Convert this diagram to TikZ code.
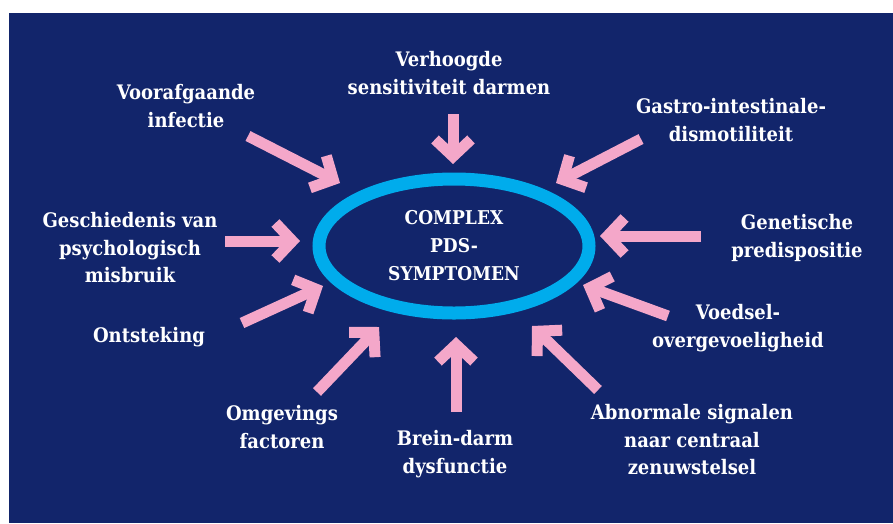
\documentclass[tikz,border=0pt]{standalone}
\usepackage{fontspec}
\setmainfont{DejaVu Serif}[FakeStretch=0.9]
\usetikzlibrary{arrows.meta, shapes.geometric}
\definecolor{navy}{RGB}{18,37,107}
\definecolor{ringblue}{RGB}{0,172,236}
\definecolor{pinkarrow}{RGB}{244,167,201}
\tikzset{arr/.style={draw=pinkarrow, line width=11pt, line join=miter,
    -{Straight Barb[length=17pt, width=36pt, line width=11pt]}}}

\begin{document}
\begin{tikzpicture}[
      x=1pt, y=-1pt,
      cause/.style={text=white, align=center, inner sep=0pt,
          font=\fontsize{20}{27.5}\selectfont\bfseries},
      core/.style={draw=ringblue, ellipse, line width=13pt, text=white, align=center,
          minimum width=270pt, minimum height=134pt, inner sep=0pt,
          font=\fontsize{19}{28}\selectfont\bfseries},
  ]
      % Background panel
      \useasboundingbox (0,0) rectangle (893,523);
      \fill[navy] (9,13) rectangle (893,523);

      % Centre: the ring
      \node[core] (sympt) at (454,246) {COMPLEX\\PDS-\\SYMPTOMEN};

      % Causes round the ring (clockwise from top)
      \node[cause] (sens) at (449,73) {Verhoogde\\sensitiviteit darmen};
      \node[cause] (gastro) at (731,120) {Gastro-intestinale-\\dismotiliteit};
      \node[cause] (genet) at (797,238) {Genetische\\predispositie};
      \node[cause] (voedsel) at (738,328) {Voedsel-\\overgevoeligheid};
      \node[cause] (cns) at (692,440) {Abnormale signalen\\naar centraal\\zenuwstelsel};
      \node[cause] (brein) at (455,454) {Brein-darm\\dysfunctie};
      \node[cause] (omgev) at (282,427) {Omgevings\\factoren};
      \node[cause] (ontst) at (149,337) {Ontsteking};
      \node[cause] (gesch) at (130,248) {Geschiedenis van\\psychologisch\\misbruik};
      \node[cause] (infect) at (186,106) {Voorafgaande\\infectie};

      % Arrow ends
      \coordinate (infect-a) at (248,136);   \coordinate (infect-b) at (340,183);
      \coordinate (sens-a) at (453,114);     \coordinate (sens-b) at (453,164);
      \coordinate (gastro-a) at (641,139);   \coordinate (gastro-b) at (556,183);
      \coordinate (gesch-a) at (225,241);    \coordinate (gesch-b) at (300,241);
      \coordinate (ontst-a) at (242,323);    \coordinate (ontst-b) at (323,286);
      \coordinate (genet-a) at (701,236);    \coordinate (genet-b) at (600,236);
      \coordinate (voedsel-a) at (668,316);  \coordinate (voedsel-b) at (583,285);
      \coordinate (omgev-a) at (317,392);    \coordinate (omgev-b) at (379,327);
      \coordinate (brein-a) at (456,412);    \coordinate (brein-b) at (456,337);
      \coordinate (cns-a) at (598,390);      \coordinate (cns-b) at (532,326);

      % Arrows into the ring
      \foreach \c in {infect, sens, gastro, gesch, ontst, genet, voedsel, omgev, brein, cns}
          \draw[arr] (\c-a) -- (\c-b);

\end{tikzpicture}
\end{document}
